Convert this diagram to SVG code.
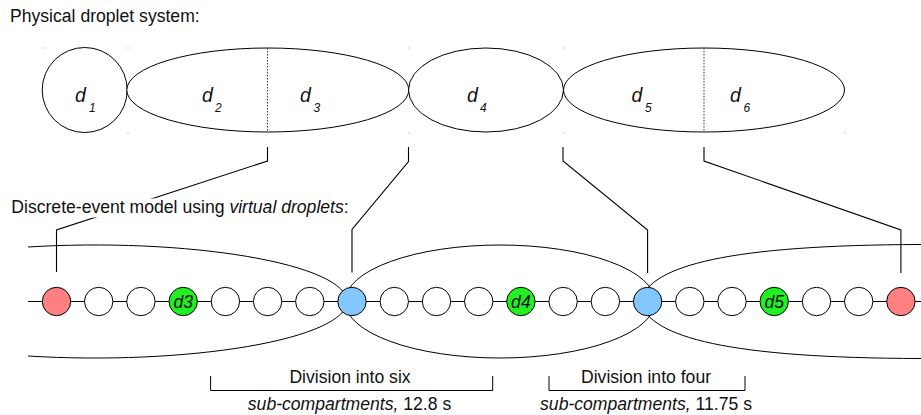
<svg xmlns="http://www.w3.org/2000/svg" width="921" height="415" viewBox="0 0 921 415">
<style>
  text { font-family: "Liberation Sans", Arial, sans-serif; fill: #111; }
  .lbl { font-size: 17.6px; }
  .it { font-style: italic; }
  .dname { font-size: 19.5px; font-style: italic; }
  .dsub { font-size: 12px; font-style: italic; }
  .cell { font-size: 17.6px; font-style: italic; text-anchor: middle; }
  .shape { fill: #fff; stroke: #000; stroke-width: 1; }
  .outline { fill: none; stroke: #000; stroke-width: 1; }
  .divider { fill: none; stroke: #333; stroke-width: 1; stroke-dasharray: 1.5 1.5; }
  .conn { fill: none; stroke: #000; stroke-width: 1.1; }
  .c { stroke: #000; stroke-width: 1; }
  .white { fill: #fff; }
  .red { fill: #ff8080; }
  .blue { fill: #82c8ff; }
  .green { fill: #22ee22; }
  .tick { fill: #999; }
</style>
<rect width="921" height="415" fill="#fff"/>

<text class="lbl" x="10" y="22">Physical droplet system:</text>

<!-- top physical droplets -->
<g id="drop-d1">
  <circle class="shape" cx="84.7" cy="90" r="42.5"/>
  <text class="dname" x="75" y="101.5">d</text><text class="dsub" x="89" y="111.5">1</text>
</g>
<g id="drop-d2-d3">
  <ellipse class="shape" cx="267.8" cy="90" rx="141" ry="42"/>
  <line class="divider" x1="267.5" y1="48" x2="267.5" y2="132"/>
  <text class="dname" x="202" y="101.5">d</text><text class="dsub" x="215" y="111.5">2</text>
  <text class="dname" x="300" y="101.5">d</text><text class="dsub" x="313.5" y="111.5">3</text>
</g>
<g id="drop-d4">
  <ellipse class="shape" cx="486" cy="90" rx="77.5" ry="42"/>
  <text class="dname" x="467" y="101.5">d</text><text class="dsub" x="480" y="111.5">4</text>
</g>
<g id="drop-d5-d6">
  <ellipse class="shape" cx="704" cy="90" rx="140.5" ry="42"/>
  <line class="divider" x1="704" y1="48" x2="704" y2="132"/>
  <text class="dname" x="631.5" y="101.5">d</text><text class="dsub" x="645" y="111.5">5</text>
  <text class="dname" x="730" y="101.5">d</text><text class="dsub" x="743.5" y="111.5">6</text>
</g>
<g id="top-ticks">
  <rect class="tick" x="42.5" y="47.5" width="1" height="1"/>
  <rect class="tick" x="127.5" y="47.5" width="1" height="1"/>
  <rect class="tick" x="408.5" y="47.5" width="1" height="1"/>
  <rect class="tick" x="563.5" y="47.5" width="1" height="1"/>
  <rect class="tick" x="127.5" y="132.5" width="1" height="1"/>
  <rect class="tick" x="408.5" y="132.5" width="1" height="1"/>
  <rect class="tick" x="563.5" y="132.5" width="1" height="1"/>
  <rect class="tick" x="844.5" y="132.5" width="1" height="1"/>
</g>

<!-- connectors -->
<g id="connectors">
  <polyline class="conn" points="267.5,147 267.5,161 56.5,230 56.5,272"/>
  <polyline class="conn" points="408.5,147 408.5,161.5 352,229.5 352,272.5"/>
  <polyline class="conn" points="563,147 563,161 647.6,230 647.6,273"/>
  <polyline class="conn" points="704,147 704,161 900.9,230 900.9,273"/>
</g>

<g id="model-label">
  <rect class="white" x="10" y="198.5" width="346" height="19"/>
  <text class="lbl" x="11.3" y="213.3">Discrete-event model using <tspan class="it">virtual droplets</tspan>:</text>
</g>

<!-- compartments (bottom) -->
<g id="compartments">
  <path class="outline" d="M28,247 A252,56.5 0 0,1 347,301.5 A252,56.5 0 0,1 28,356"/>
  <ellipse class="outline" cx="500" cy="301.5" rx="155" ry="56.5"/>
  <path class="outline" d="M921,244.5 C730,245 650,265 640,301.5 C650,338 730,358 921,358.5"/>
</g>

<g id="chain-line">
  <line class="conn" x1="28" y1="301.5" x2="921" y2="301.5"/>
</g>

<g id="v0"><circle class="c red" cx="56.5" cy="301.5" r="14.2"/></g>
<g id="v1"><circle class="c white" cx="98.7" cy="301.5" r="14.2"/></g>
<g id="v2"><circle class="c white" cx="140.9" cy="301.5" r="14.2"/></g>
<g id="v3"><circle class="c green" cx="183.2" cy="301.5" r="14.2"/><text class="cell" x="183.2" y="307.6">d3</text></g>
<g id="v4"><circle class="c white" cx="225.4" cy="301.5" r="14.2"/></g>
<g id="v5"><circle class="c white" cx="267.6" cy="301.5" r="14.2"/></g>
<g id="v6"><circle class="c white" cx="309.8" cy="301.5" r="14.2"/></g>
<g id="v7"><circle class="c blue" cx="352" cy="301.5" r="14.2"/></g>
<g id="v8"><circle class="c white" cx="394.3" cy="301.5" r="14.2"/></g>
<g id="v9"><circle class="c white" cx="436.5" cy="301.5" r="14.2"/></g>
<g id="v10"><circle class="c white" cx="478.7" cy="301.5" r="14.2"/></g>
<g id="v11"><circle class="c green" cx="520.9" cy="301.5" r="14.2"/><text class="cell" x="520.9" y="307.6">d4</text></g>
<g id="v12"><circle class="c white" cx="563.1" cy="301.5" r="14.2"/></g>
<g id="v13"><circle class="c white" cx="605.4" cy="301.5" r="14.2"/></g>
<g id="v14"><circle class="c blue" cx="647.6" cy="301.5" r="14.2"/></g>
<g id="v15"><circle class="c white" cx="689.8" cy="301.5" r="14.2"/></g>
<g id="v16"><circle class="c white" cx="732" cy="301.5" r="14.2"/></g>
<g id="v17"><circle class="c green" cx="774.2" cy="301.5" r="14.2"/><text class="cell" x="774.2" y="307.6">d5</text></g>
<g id="v18"><circle class="c white" cx="816.5" cy="301.5" r="14.2"/></g>
<g id="v19"><circle class="c white" cx="858.7" cy="301.5" r="14.2"/></g>
<g id="v20"><circle class="c red" cx="900.9" cy="301.5" r="14.2"/></g>

<!-- brackets -->
<g id="bracket-six">
  <path class="outline" d="M210.6,376 V390.5 H492.7 V376"/>
  <text class="lbl" x="350" y="382.6" text-anchor="middle">Division into six</text>
  <text class="lbl" x="349.5" y="410" text-anchor="middle"><tspan class="it">sub-compartments,</tspan> 12.8 s</text>
</g>
<g id="bracket-four">
  <path class="outline" d="M549,376 V390.5 H745 V376"/>
  <text class="lbl" x="646" y="382.6" text-anchor="middle">Division into four</text>
  <text class="lbl" x="646" y="410" text-anchor="middle"><tspan class="it">sub-compartments,</tspan> 11.75 s</text>
</g>
</svg>
